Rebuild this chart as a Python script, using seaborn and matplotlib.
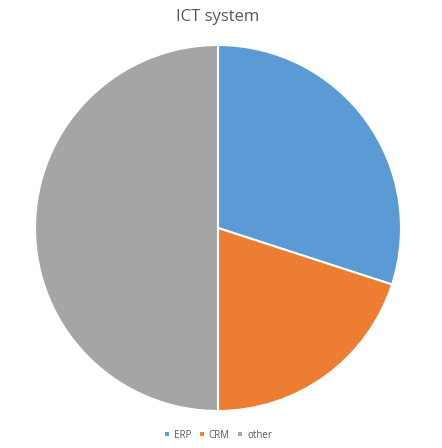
import matplotlib
matplotlib.use("Agg")
import matplotlib.pyplot as plt
import seaborn as sns

labels = ['ERP', 'CRM', 'other']
shares = [30, 20, 50]
colors = ['#5B9BD5', '#ED7D31', '#A5A5A5']

sns.set_theme(style="white")
plt.rcParams['font.family'] = ['Open Sans', 'DejaVu Sans']

fig = plt.figure(figsize=(4.42, 4.48), dpi=100)
ax = fig.add_axes([(218 - 183) / 442, 1 - (228 + 183) / 448, 366 / 442, 366 / 448])
wedges, _ = ax.pie(shares, colors=colors, startangle=90, counterclock=False,
                   wedgeprops=dict(edgecolor='white', linewidth=1.5))
ax.set_xlim(-1, 1)
ax.set_ylim(-1, 1)
ax.set_aspect('equal')
fig.text(218 / 442, 1 - 17 / 448, 'ICT system', ha='center', va='center',
         fontsize=12, color='#595959')
fig.legend(wedges, labels, loc='center', bbox_to_anchor=(218 / 442, 1 - 435 / 448),
           ncol=3, frameon=False, fontsize=7, handlelength=0.6, handleheight=0.6,
           columnspacing=0.8, handletextpad=0.4, labelcolor='#595959')
fig.savefig('out.png', dpi=100)
